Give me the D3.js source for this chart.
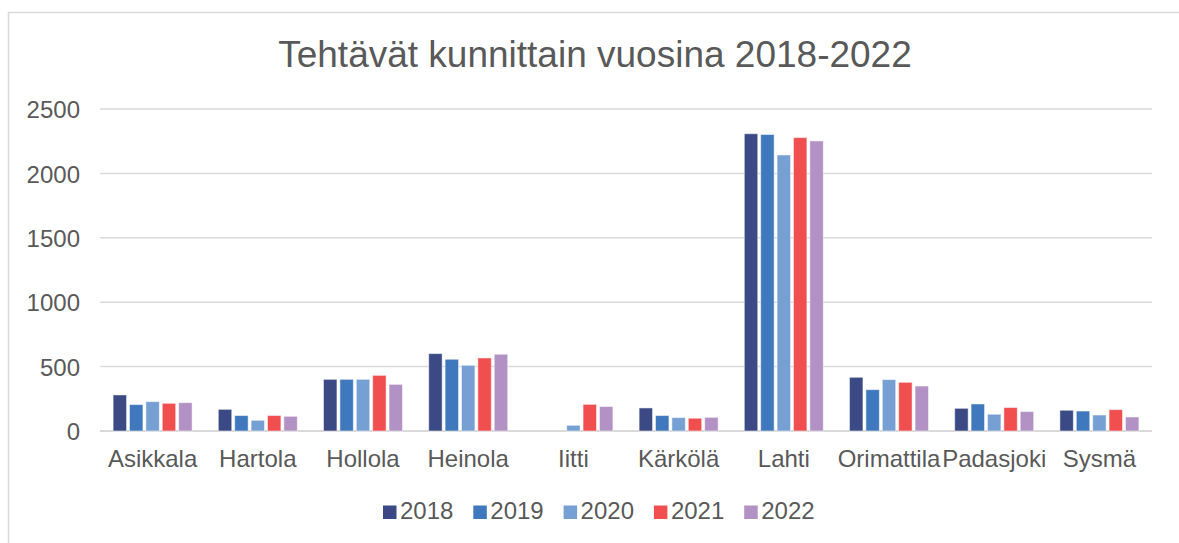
<!DOCTYPE html>
<html>
<head>
<meta charset="utf-8">
<script src="https://cdn.jsdelivr.net/npm/d3@7"></script>
<style>
  body { margin: 0; background: #fff; }
  svg { display: block; font-family: "Liberation Sans", Arial, sans-serif; }
</style>
</head>
<body>
<svg width="1179" height="543"></svg>
<script>
// kunnat ja vuodet
var kunnat = ["Asikkala", "Hartola", "Hollola", "Heinola", "Iitti", "Kärkölä", "Lahti", "Orimattila", "Padasjoki", "Sysmä"];
var vuodet = ["2018", "2019", "2020", "2021", "2022"];
var varit = ["#3b4a85", "#3f78bd", "#769fd3", "#f04e4f", "#b291c5"];

// tehtävät per vuosi (sama järjestys kuin kunnat)
var v2018 = [280, 168, 401, 601, null, 179, 2308, 417, 176, 161];
var v2019 = [205, 120, 401, 557, null, 120, 2302, 321, 210, 155];
var v2020 = [228, 83, 401, 510, 44, 104, 2143, 399, 130, 124];
var v2021 = [215, 120, 432, 567, 207, 99, 2278, 378, 182, 166];
var v2022 = [220, 114, 362, 596, 190, 106, 2252, 349, 151, 109];
var sarjat = [v2018, v2019, v2020, v2021, v2022];

var yTicks = [0, 500, 1000, 1500, 2000, 2500];

var svg = d3.select("svg");
var tekstiVari = "#595959";

// kehys (oikea ja ala reuna rajautuvat kuvan ulkopuolelle)
svg.append("rect")
  .attr("x", 8.5).attr("y", 12.5)
  .attr("width", 1200).attr("height", 600)
  .attr("fill", "none")
  .attr("stroke", "#d9d9d9")
  .attr("stroke-width", 1.5);

svg.append("text")
  .attr("x", 595).attr("y", 67)
  .attr("text-anchor", "middle")
  .attr("font-size", 37)
  .attr("fill", tekstiVari)
  .text("Tehtävät kunnittain vuosina 2018-2022");

var x0 = d3.scaleBand().domain(kunnat).range([100, 1152]);
var x1 = d3.scaleBand().domain(vuodet).range([0, x0.bandwidth()])
  .paddingInner(0.18).paddingOuter(0.8);
var y = d3.scaleLinear().domain([0, 2500]).range([431, 109]);

// ruudukko
svg.append("g").selectAll("line")
  .data(yTicks)
  .enter()
  .append("line")
  .attr("x1", 100).attr("x2", 1152)
  .attr("y1", function (d) { return y(d); })
  .attr("y2", function (d) { return y(d); })
  .attr("stroke", "#d9d9d9")
  .attr("stroke-width", function (d) { return d === 0 ? 2 : 1.5; });

// y-akseli
var yAxis = svg.append("g")
  .attr("transform", "translate(80,0)")
  .call(d3.axisLeft(y).tickValues(yTicks).tickFormat(d3.format("d")).tickSize(0).tickPadding(0));
yAxis.select(".domain").remove();
yAxis.selectAll("text")
  .attr("font-size", 24)
  .attr("font-family", "Liberation Sans, Arial, sans-serif")
  .attr("fill", tekstiVari)
  .attr("dy", "0.36em");

// pylväät
var ryhma = svg.append("g").selectAll("g")
  .data(kunnat)
  .enter()
  .append("g")
  .attr("transform", function (d) { return "translate(" + x0(d) + ",0)"; });

ryhma.selectAll("rect")
  .data(function (k, i) {
    return vuodet.map(function (v, j) { return { vuosi: v, j: j, arvo: sarjat[j][i] }; });
  })
  .enter()
  .filter(function (d) { return d.arvo != null; })
  .append("rect")
  .attr("x", function (d) { return x1(d.vuosi); })
  .attr("y", function (d) { return y(d.arvo); })
  .attr("width", x1.bandwidth())
  .attr("height", function (d) { return y(0) - y(d.arvo); })
  .attr("fill", function (d) { return varit[d.j]; })
  .attr("stroke", "#ffffff")
  .attr("stroke-opacity", 0.5)
  .attr("stroke-width", 1);

// x-akseli
var xAxis = svg.append("g")
  .attr("transform", "translate(0,431)")
  .call(d3.axisBottom(x0).tickSize(0).tickPadding(0));
xAxis.select(".domain").remove();
xAxis.selectAll("text")
  .attr("font-size", 24)
  .attr("font-family", "Liberation Sans, Arial, sans-serif")
  .attr("fill", tekstiVari)
  .attr("dy", null)
  .attr("y", 36);

// selite
var selite = svg.append("g").selectAll("g")
  .data(vuodet)
  .enter()
  .append("g")
  .attr("transform", function (d, i) { return "translate(" + (383 + i * 90.3) + ",0)"; });

selite.append("rect")
  .attr("x", 0).attr("y", 505.5)
  .attr("width", 13.5).attr("height", 13.5)
  .attr("fill", function (d, i) { return varit[i]; });

selite.append("text")
  .attr("x", 17).attr("y", 519)
  .attr("font-size", 24)
  .attr("fill", tekstiVari)
  .text(function (d) { return d; });
</script>
</body>
</html>
